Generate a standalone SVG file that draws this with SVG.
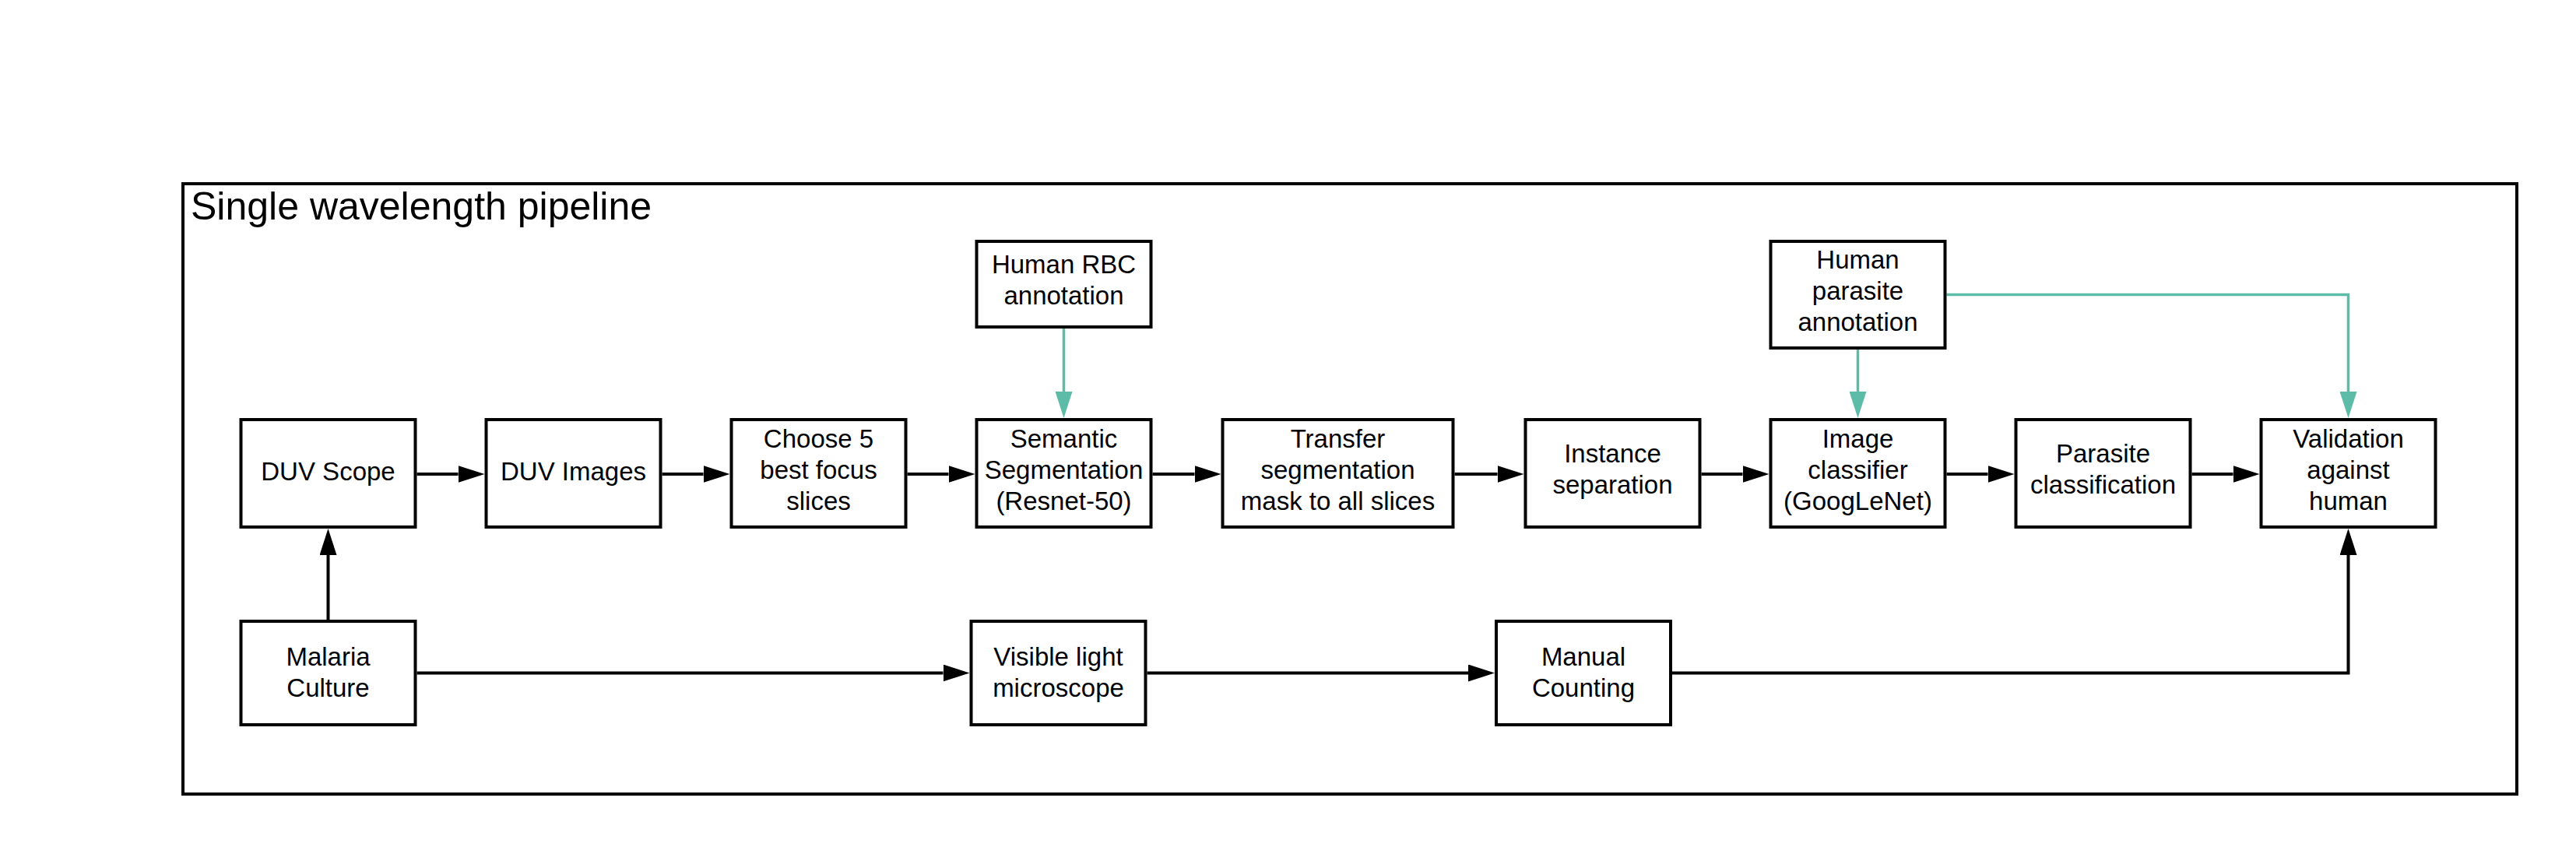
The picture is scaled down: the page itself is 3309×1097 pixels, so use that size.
<svg xmlns="http://www.w3.org/2000/svg" width="3309" height="1097" viewBox="0 0 3309 1097">
<style>
.box{fill:#fff;stroke:#000;stroke-width:4}
.t{font-family:"Liberation Sans",Arial,sans-serif;font-size:33px;fill:#000;text-anchor:middle}
.title{font-family:"Liberation Sans",Arial,sans-serif;font-size:50px;fill:#000}
.cb{fill:none;stroke:#000;stroke-width:4}
.ct{fill:none;stroke:#5DBCA8;stroke-width:3.5}
</style>
<defs>
<marker id="ab" markerUnits="userSpaceOnUse" markerWidth="34" markerHeight="22" refX="0" refY="11" orient="auto" viewBox="0 0 34 22"><path d="M0,0 L34,11 L0,22 Z" fill="#000"/></marker>
<marker id="at" markerUnits="userSpaceOnUse" markerWidth="34" markerHeight="22" refX="0" refY="11" orient="auto" viewBox="0 0 34 22"><path d="M0,0 L34,11 L0,22 Z" fill="#5DBCA8"/></marker>
</defs>
<rect width="3309" height="1097" fill="#fff"/>
<g id="container">
<rect x="235" y="236" width="2998" height="784" fill="none" stroke="#000" stroke-width="4"/>
<text class="title" x="245" y="282">Single wavelength pipeline</text>
</g>
<g id="connectors">
<path class="cb" d="M535.5,609 H588.5" marker-end="url(#ab)"/>
<path class="cb" d="M850.5,609 H903.5" marker-end="url(#ab)"/>
<path class="cb" d="M1165.5,609 H1218.5" marker-end="url(#ab)"/>
<path class="cb" d="M1480.5,609 H1534.5" marker-end="url(#ab)"/>
<path class="cb" d="M1868.5,609 H1923.5" marker-end="url(#ab)"/>
<path class="cb" d="M2185.5,609 H2238.5" marker-end="url(#ab)"/>
<path class="cb" d="M2500.5,609 H2553.5" marker-end="url(#ab)"/>
<path class="cb" d="M2815.5,609 H2868.5" marker-end="url(#ab)"/>
<path class="ct" d="M1366.5,422 V503" marker-end="url(#at)"/>
<path class="ct" d="M2386.5,449 V503" marker-end="url(#at)"/>
<path class="ct" d="M2500.5,378.5 H3016.5 V503" marker-end="url(#at)"/>
<path class="cb" d="M421.5,796 V713" marker-end="url(#ab)"/>
<path class="cb" d="M535.5,864.5 H1211.5" marker-end="url(#ab)"/>
<path class="cb" d="M1473.5,864.5 H1886" marker-end="url(#ab)"/>
<path class="cb" d="M2148,864.5 H3016.5 V713" marker-end="url(#ab)"/>
</g>
<g id="duv-scope"><rect class="box" x="309.5" y="539" width="224" height="138"/><text class="t" x="421.5" y="617">DUV Scope</text></g>
<g id="duv-images"><rect class="box" x="624.5" y="539" width="224" height="138"/><text class="t" x="736.5" y="617">DUV Images</text></g>
<g id="choose-5"><rect class="box" x="939.5" y="539" width="224" height="138"/><text class="t" x="1051.5" y="575">Choose 5</text><text class="t" x="1051.5" y="615">best focus</text><text class="t" x="1051.5" y="655">slices</text></g>
<g id="semantic-seg"><rect class="box" x="1254.5" y="539" width="224" height="138"/><text class="t" x="1366.5" y="575">Semantic</text><text class="t" x="1366.5" y="615">Segmentation</text><text class="t" x="1366.5" y="655">(Resnet-50)</text></g>
<g id="transfer"><rect class="box" x="1570.5" y="539" width="296" height="138"/><text class="t" x="1718.5" y="575">Transfer</text><text class="t" x="1718.5" y="615">segmentation</text><text class="t" x="1718.5" y="655">mask to all slices</text></g>
<g id="instance-sep"><rect class="box" x="1959.5" y="539" width="224" height="138"/><text class="t" x="2071.5" y="594">Instance</text><text class="t" x="2071.5" y="634">separation</text></g>
<g id="image-classifier"><rect class="box" x="2274.5" y="539" width="224" height="138"/><text class="t" x="2386.5" y="575">Image</text><text class="t" x="2386.5" y="615">classifier</text><text class="t" x="2386.5" y="655">(GoogLeNet)</text></g>
<g id="parasite-class"><rect class="box" x="2589.5" y="539" width="224" height="138"/><text class="t" x="2701.5" y="594">Parasite</text><text class="t" x="2701.5" y="634">classification</text></g>
<g id="validation"><rect class="box" x="2904.5" y="539" width="224" height="138"/><text class="t" x="3016.5" y="575">Validation</text><text class="t" x="3016.5" y="615">against</text><text class="t" x="3016.5" y="655">human</text></g>
<g id="human-rbc"><rect class="box" x="1254.5" y="310" width="224" height="110"/><text class="t" x="1366.5" y="351">Human RBC</text><text class="t" x="1366.5" y="391">annotation</text></g>
<g id="human-parasite"><rect class="box" x="2274.5" y="310" width="224" height="137"/><text class="t" x="2386.5" y="345">Human</text><text class="t" x="2386.5" y="385">parasite</text><text class="t" x="2386.5" y="425">annotation</text></g>
<g id="malaria-culture"><rect class="box" x="309.5" y="798" width="224" height="133"/><text class="t" x="421.5" y="855">Malaria</text><text class="t" x="421.5" y="895">Culture</text></g>
<g id="visible-light"><rect class="box" x="1247.5" y="798" width="224" height="133"/><text class="t" x="1359.5" y="855">Visible light</text><text class="t" x="1359.5" y="895">microscope</text></g>
<g id="manual-counting"><rect class="box" x="1922" y="798" width="224" height="133"/><text class="t" x="2034" y="855">Manual</text><text class="t" x="2034" y="895">Counting</text></g>
</svg>
